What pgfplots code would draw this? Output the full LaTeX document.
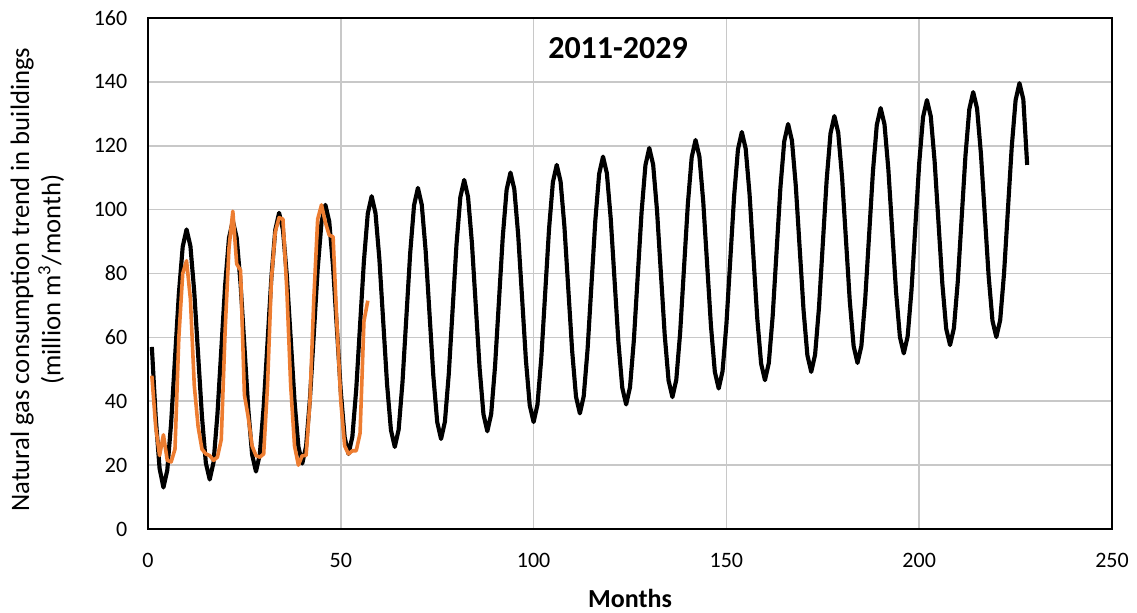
\documentclass[border=0pt]{standalone}
\usepackage{pgfplots}
\usepackage{pgfplotstable}
\pgfplotsset{compat=1.18}
\usepackage{fontspec}
\setmainfont{Carlito}
\definecolor{gridgray}{RGB}{200,200,200}
\definecolor{xlorange}{RGB}{237,125,49}

\pgfplotstableread{
m v
1 57
2 35
3 19
4 13
5 18.4
6 33.2
7 53.4
8 73.6
9 88.4
10 93.8
11 88.6
12 74.2
13 54.6
14 35.1
15 20.7
16 15.5
17 20.9
18 35.8
19 56
20 76.3
21 91.1
22 96.5
23 91.2
24 76.9
25 57.3
26 37.6
27 23.3
28 18
29 23.4
30 38.3
31 58.5
32 78.8
33 93.6
34 99
35 93.7
36 79.4
37 59.8
38 40.1
39 25.8
40 20.5
41 25.9
42 40.8
43 61
44 81.3
45 96.1
46 101.5
47 96.3
48 82
49 62.5
50 43
51 28.7
52 23.5
53 28.9
54 43.7
55 63.9
56 84
57 98.8
58 104.2
59 98.9
60 84.6
61 65
62 45.3
63 31
64 25.7
65 31.1
66 46
67 66.3
68 86.5
69 101.4
70 106.8
71 101.5
72 87.2
73 67.5
74 47.9
75 33.5
76 28.2
77 33.6
78 48.5
79 68.8
80 89
81 103.9
82 109.3
83 104
84 89.6
85 70
86 50.3
87 35.9
88 30.6
89 36
90 50.9
91 71.1
92 91.4
93 106.2
94 111.6
95 106.4
96 92.1
97 72.6
98 53
99 38.7
100 33.5
101 38.9
102 53.6
103 73.8
104 93.9
105 108.6
106 114
107 108.8
108 94.6
109 75.1
110 55.7
111 41.4
112 36.2
113 41.6
114 56.3
115 76.4
116 96.5
117 111.2
118 116.6
119 111.4
120 97.2
121 77.8
122 58.4
123 44.2
124 39
125 44.4
126 59.1
127 79.2
128 99.2
129 113.9
130 119.3
131 114.1
132 99.8
133 80.3
134 60.8
135 46.5
136 41.3
137 46.7
138 61.4
139 81.6
140 101.7
141 116.4
142 121.8
143 116.6
144 102.4
145 82.9
146 63.5
147 49.2
148 44
149 49.4
150 64.1
151 84.2
152 104.2
153 118.9
154 124.3
155 119.1
156 104.9
157 85.5
158 66
159 51.8
160 46.6
161 52
162 66.7
163 86.7
164 106.8
165 121.4
166 126.8
167 121.6
168 107.4
169 88
170 68.6
171 54.4
172 49.2
173 54.6
174 69.2
175 89.3
176 109.3
177 123.9
178 129.3
179 124.1
180 110
181 90.7
182 71.3
183 57.2
184 52
185 57.3
186 72
187 91.9
188 111.9
189 126.5
190 131.8
191 126.7
192 112.6
193 93.4
194 74.2
195 60.1
196 55
197 60.3
198 74.8
199 94.7
200 114.5
201 129
202 134.3
203 129.2
204 115.1
205 96
206 76.8
207 62.7
208 57.6
209 62.9
210 77.4
211 97.2
212 117
213 131.5
214 136.8
215 131.7
216 117.6
217 98.5
218 79.3
219 65.2
220 60.1
221 65.4
222 80
223 99.9
224 119.7
225 134.3
226 139.6
227 134.5
228 114
}\forecast

\pgfplotstableread{
m v
1 48
2 32
3 23
4 29.5
5 21.5
6 21
7 25
8 60
9 80
10 84
11 72
12 45
13 32
14 25
15 23.5
16 23
17 21.5
18 22.5
19 28
20 62
21 88
22 99.5
23 83
24 81
25 42
26 35
27 26
28 23
29 22.5
30 23.5
31 45
32 78
33 93
34 97.5
35 97
36 75
37 45
38 26
39 20
40 23
41 23
42 40
43 72
44 97
45 101.5
46 96
47 92
48 91.5
49 64
50 40
51 26
52 23.5
53 24.5
54 24.5
55 30
56 65
57 71.5
}\actual

\begin{document}
\begin{tikzpicture}
\useasboundingbox (-111pt,-62.25pt) rectangle (741.75pt,396.75pt);
\begin{axis}[
  scale only axis,
  width=723pt, height=383.25pt,
  xmin=0, xmax=250, ymin=0, ymax=160,
  xtick={0,50,...,250}, ytick={0,20,...,160},
  grid=major,
  major grid style={draw=gridgray, line width=1.3pt},
  axis line style={black, line width=1.5pt},
  major tick length=0pt,
  tick label style={font=\fontsize{16.5}{18}\selectfont},
  /pgf/number format/assume math mode=true,
  xticklabel style={anchor=center, yshift=-23.5pt},
  yticklabel style={anchor=east, xshift=-12pt},
]
\addplot[black, line width=3.1pt, line join=round] table[x=m, y=v] {\forecast};
\addplot[xlorange, line width=2.7pt, line join=round] table[x=m, y=v] {\actual};
\node[font=\bfseries\fontsize{24}{26}\selectfont] at (axis cs:121.9,150.6) {2011-2029};
\end{axis}
\node[font=\bfseries\fontsize{19.5}{22}\selectfont] at (361.5pt,-51.75pt) {Months};
\node[rotate=90, align=center, font=\fontsize{20}{23.5}\selectfont] at (-83pt,187pt) {Natural gas consumption trend in buildings\\(million m\textsuperscript{3}/month)};
\end{tikzpicture}
\end{document}
